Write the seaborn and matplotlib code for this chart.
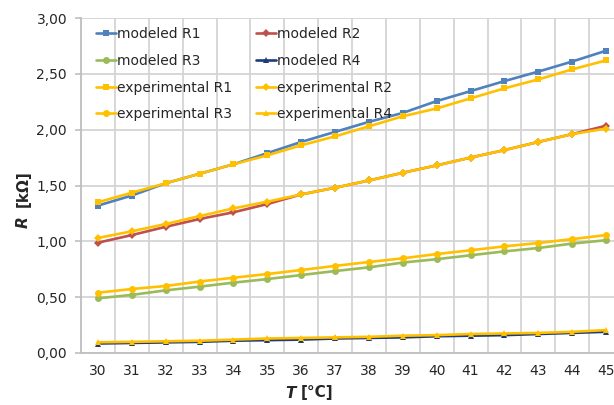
import matplotlib
matplotlib.use("Agg")
import matplotlib.pyplot as plt
import seaborn as sns
import pandas as pd
from matplotlib.ticker import FuncFormatter, FixedLocator

T = list(range(30, 46))
mod_R1 = [1.32, 1.41, 1.52, 1.605, 1.69, 1.79, 1.89, 1.98, 2.07, 2.15, 2.256, 2.345, 2.435, 2.52, 2.61, 2.707]
mod_R2 = [0.988, 1.056, 1.13, 1.20, 1.26, 1.334, 1.42, 1.48, 1.545, 1.614, 1.68, 1.75, 1.817, 1.89, 1.96, 2.035]
mod_R3 = [0.49, 0.52, 0.561, 0.594, 0.63, 0.662, 0.698, 0.734, 0.767, 0.81, 0.84, 0.875, 0.91, 0.94, 0.98, 1.01]
mod_R4 = [0.085, 0.09, 0.095, 0.10, 0.11, 0.115, 0.12, 0.13, 0.135, 0.14, 0.15, 0.155, 0.16, 0.17, 0.18, 0.19]
exp_R1 = [1.35, 1.435, 1.52, 1.605, 1.69, 1.77, 1.86, 1.94, 2.03, 2.12, 2.19, 2.28, 2.37, 2.45, 2.54, 2.62]
exp_R2 = [1.03, 1.09, 1.155, 1.226, 1.295, 1.355, 1.42, 1.48, 1.545, 1.614, 1.68, 1.75, 1.817, 1.89, 1.96, 2.01]
exp_R3 = [0.54, 0.573, 0.60, 0.64, 0.674, 0.707, 0.743, 0.78, 0.815, 0.848, 0.886, 0.92, 0.955, 0.985, 1.02, 1.056]
exp_R4 = [0.096, 0.10, 0.105, 0.11, 0.12, 0.13, 0.135, 0.14, 0.145, 0.155, 0.16, 0.17, 0.175, 0.18, 0.19, 0.205]
y_ticks = [0.0, 0.5, 1.0, 1.5, 2.0, 2.5, 3.0]

series = [
    ("modeled R1", mod_R1, "#4F81BD", "s"),
    ("modeled R2", mod_R2, "#C0504D", "D"),
    ("modeled R3", mod_R3, "#9BBB59", "o"),
    ("modeled R4", mod_R4, "#1F3C7A", "^"),
    ("experimental R1", exp_R1, "#FFC000", "s"),
    ("experimental R2", exp_R2, "#FFC000", "D"),
    ("experimental R3", exp_R3, "#FFC000", "o"),
    ("experimental R4", exp_R4, "#FFC000", "^"),
]

sns.set_theme(style="white")
plt.rcParams['font.family'] = ['DejaVu Sans']

fig = plt.figure(figsize=(6.14, 4.05), dpi=100)
W, H = 614, 405
ax = fig.add_axes([81 / W, 1 - 353 / H, (623 - 81) / W, (353 - 18) / H])

for name, vals, col, mk in series:
    df = pd.DataFrame({"T": T, "R": vals})
    ms = 5 if mk != "D" else 4
    sns.lineplot(data=df, x="T", y="R", ax=ax, color=col, marker=mk,
                 markersize=ms, markeredgewidth=0, linewidth=1.9, label=name)

ax.set_xlim(29.5, 45.5)
ax.set_ylim(0, 3.0)
ax.set_xticks(T)
ax.set_xticklabels([str(t) for t in T])
ax.xaxis.set_minor_locator(FixedLocator([t - 0.5 for t in T] + [45.5]))
ax.set_yticks(y_ticks)
ax.yaxis.set_major_formatter(FuncFormatter(lambda v, p: f"{v:.2f}".replace(".", ",")))

grid_c = "#D4D4D4"
ax.grid(False)
ax.yaxis.grid(True, which="major", color=grid_c, linewidth=1.3)
ax.xaxis.grid(True, which="minor", color=grid_c, linewidth=1.3)
ax.set_axisbelow(True)
for s in ["top", "right"]:
    ax.spines[s].set_visible(False)
for s in ["left", "bottom"]:
    ax.spines[s].set_color("#BFBFBF")
    ax.spines[s].set_linewidth(1.3)
ax.tick_params(axis="x", which="major", length=0, pad=8, labelsize=10, labelcolor="#262626")
ax.tick_params(axis="x", which="minor", length=5, width=1.2, color="#BFBFBF", direction="out")
ax.tick_params(axis="y", which="major", length=4, width=1.2, color="#BFBFBF", pad=6,
               labelsize=10, labelcolor="#262626", left=True)
ax.set_xlabel("")
ax.set_ylabel("")

h, l = ax.get_legend_handles_labels()
order = [0, 2, 4, 6, 1, 3, 5, 7]
leg = ax.legend([h[i] for i in order], [l[i] for i in order], ncol=2, frameon=False,
                loc="upper left", bbox_to_anchor=(96 / W, 1 - 27 / H),
                bbox_transform=fig.transFigure, borderpad=0, borderaxespad=0,
                handlelength=1.45, handletextpad=0.05, labelspacing=0.92,
                columnspacing=1.75, fontsize=10)
for t in leg.get_texts():
    t.set_color("#262626")

# axis labels
fig.text(296 / W, 1 - 393 / H, "T", fontsize=11, fontweight="bold", fontstyle="italic",
         ha="right", va="center", color="#262626")
fig.text(301 / W, 1 - 393 / H, "[°C]", fontsize=11, fontweight="bold",
         ha="left", va="center", color="#262626")
fig.text(23 / W, 1 - 216 / H, "R", fontsize=11, fontweight="bold", fontstyle="italic",
         rotation=90, ha="center", va="top", color="#262626")
fig.text(23 / W, 1 - 207 / H, "[kΩ]", fontsize=11, fontweight="bold",
         rotation=90, ha="center", va="bottom", color="#262626")

fig.savefig("out.png", dpi=100)
